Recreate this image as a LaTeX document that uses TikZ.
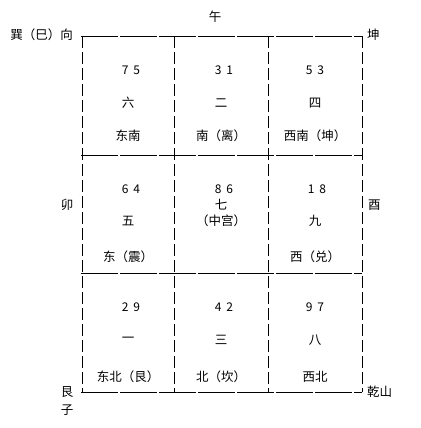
\documentclass[tikz,border=0pt]{standalone}
\usepackage{fontspec}
\setmainfont{Noto Sans CJK SC}
\newcommand{\pair}[2]{#1\hspace{5pt}#2}
\begin{document}
\begin{tikzpicture}[x=1pt,y=-1pt,
    txt/.style={font=\fontsize{12.5}{14}\selectfont,inner sep=0pt},
    num/.style={font=\fontsize{12}{14}\selectfont,inner sep=0pt},
    vline/.style={line width=0.8pt,dash pattern=on 12pt off 4pt},
    hline/.style={line width=0.8pt,dash pattern=on 37pt off 2pt}]
        \useasboundingbox (0,0) rectangle (420,428);
        % grid
        \foreach \x in {82,174,268,362}
            \draw[vline] (\x,36) -- (\x,392);
        \foreach \y in {36,155,273,392}
            \draw[hline] (81,\y) -- (362,\y);
        % outside labels
        \node[txt,anchor=east] (xun) at (73,35) {巽（巳）向};
        \node[txt] (wu) at (215,17) {午};
        \node[txt,anchor=west] (kun) at (367,35) {坤};
        \node[txt] (mao) at (67,205) {卯};
        \node[txt,anchor=west] (you) at (368,205) {酉};
        \node[txt] (gen) at (67,392) {艮};
        \node[txt] (zi) at (67,410) {子};
        \node[txt,anchor=west] (qian) at (367,392) {乾山};
        % top row
        \node[num] (n1) at (131,70) {\pair75};
        \node[txt] (s1) at (128,103) {六};
        \node[txt] (d1) at (128,136) {东南};
        \node[num] (n2) at (224,70) {\pair31};
        \node[txt] (s2) at (221,103) {二};
        \node[txt] (d2) at (221,136) {南（离）};
        \node[num] (n3) at (315,70) {\pair53};
        \node[txt] (s3) at (315,103) {四};
        \node[txt] (d3) at (315,136) {西南（坤）};
        % middle row
        \node[num] (n4) at (131,189) {\pair64};
        \node[txt] (s4) at (128,221) {五};
        \node[txt] (d4) at (128,257) {东（震）};
        \node[num] (n5) at (224,189) {\pair86};
        \node[txt] (s5) at (221,205) {七};
        \node[txt] (d5) at (221,221) {（中宫）};
        \node[num] (n6) at (317,189) {\pair18};
        \node[txt] (s6) at (315,221) {九};
        \node[txt] (d6) at (315,257) {西（兑）};
        % bottom row
        \node[num] (n7) at (131,307) {\pair29};
        \node[txt] (s7) at (128,340) {一};
        \node[txt] (d7) at (128,377) {东北（艮）};
        \node[num] (n8) at (224,307) {\pair42};
        \node[txt] (s8) at (221,340) {三};
        \node[txt] (d8) at (221,377) {北（坎）};
        \node[num] (n9) at (315,307) {\pair97};
        \node[txt] (s9) at (315,340) {八};
        \node[txt] (d9) at (315,377) {西北};
\end{tikzpicture}
\end{document}
